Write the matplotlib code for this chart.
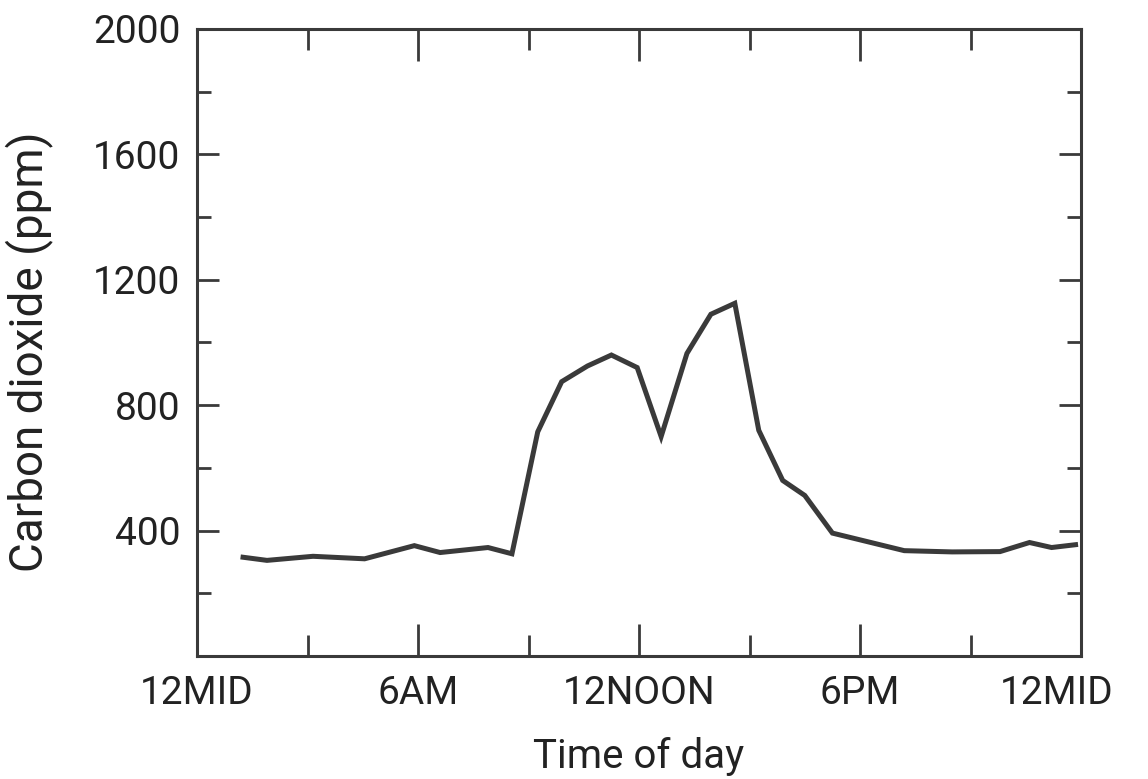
import matplotlib
matplotlib.use("Agg")
import matplotlib.pyplot as plt
import matplotlib.transforms as mtransforms

# hours after midnight and CO2 reading (ppm)
hours = [1.25, 1.9, 3.15, 4.55, 5.9, 6.6, 7.9, 8.55, 9.25, 9.9, 10.6, 11.25,
         11.95, 12.6, 13.3, 13.95, 14.6, 15.25, 15.9, 16.5, 17.25, 19.2,
         20.5, 21.8, 22.6, 23.2, 23.85]
co2 = [315, 305, 318, 310, 352, 330, 346, 326, 715, 875, 925, 960,
       920, 700, 965, 1090, 1125, 720, 560, 512, 392, 336,
       332, 333, 362, 346, 355]

xtick_pos = [0, 6, 12, 18, 24]
xtick_labels = ["12MID", "6AM", "12NOON", "6PM", "12MID"]
ytick_pos = [400, 800, 1200, 1600, 2000]

ink = "#3a3a3a"
plt.rcParams["font.family"] = ["Roboto", "DejaVu Sans"]

fig = plt.figure(figsize=(11.48, 7.79), dpi=100)
ax = fig.add_axes([0.1716, 0.1579, 0.7701, 0.8049])

ax.plot(hours, co2, color=ink, linewidth=3.6, solid_joinstyle="miter")

ax.set_xlim(0, 24)
ax.set_ylim(0, 2000)

ax.set_xticks(xtick_pos)
ax.set_xticklabels(xtick_labels)
ax.set_xticks([3, 9, 15, 21], minor=True)
ax.set_yticks(ytick_pos)
ax.set_yticks([200, 600, 1000, 1400, 1800], minor=True)

for s in ax.spines.values():
    s.set_color(ink)
    s.set_linewidth(2.2)

ax.tick_params(axis="x", which="major", direction="in", length=23, width=2,
               color=ink, top=True, labelsize=28, pad=14, labelcolor="#222222")
ax.tick_params(axis="x", which="minor", direction="in", length=15, width=2,
               color=ink, top=True)
ax.tick_params(axis="y", which="major", direction="in", length=16, width=2,
               color=ink, right=True, labelsize=28, pad=12, labelcolor="#222222")
ax.tick_params(axis="y", which="minor", direction="in", length=10, width=2,
               color=ink, right=True)

# last "12MID" sits a bit inside the right edge in the original
last = ax.get_xticklabels()[-1]
last.set_transform(last.get_transform() +
                   mtransforms.ScaledTranslation(-0.24, 0, fig.dpi_scale_trans))

ax.set_xlabel("Time of day", fontsize=29, color="#222222", labelpad=18)
ax.set_ylabel("Carbon dioxide (ppm)", fontsize=33, color="#222222")
ax.yaxis.set_label_coords(-0.163, 0.486)

fig.savefig("out.png", dpi=100, facecolor="white")
